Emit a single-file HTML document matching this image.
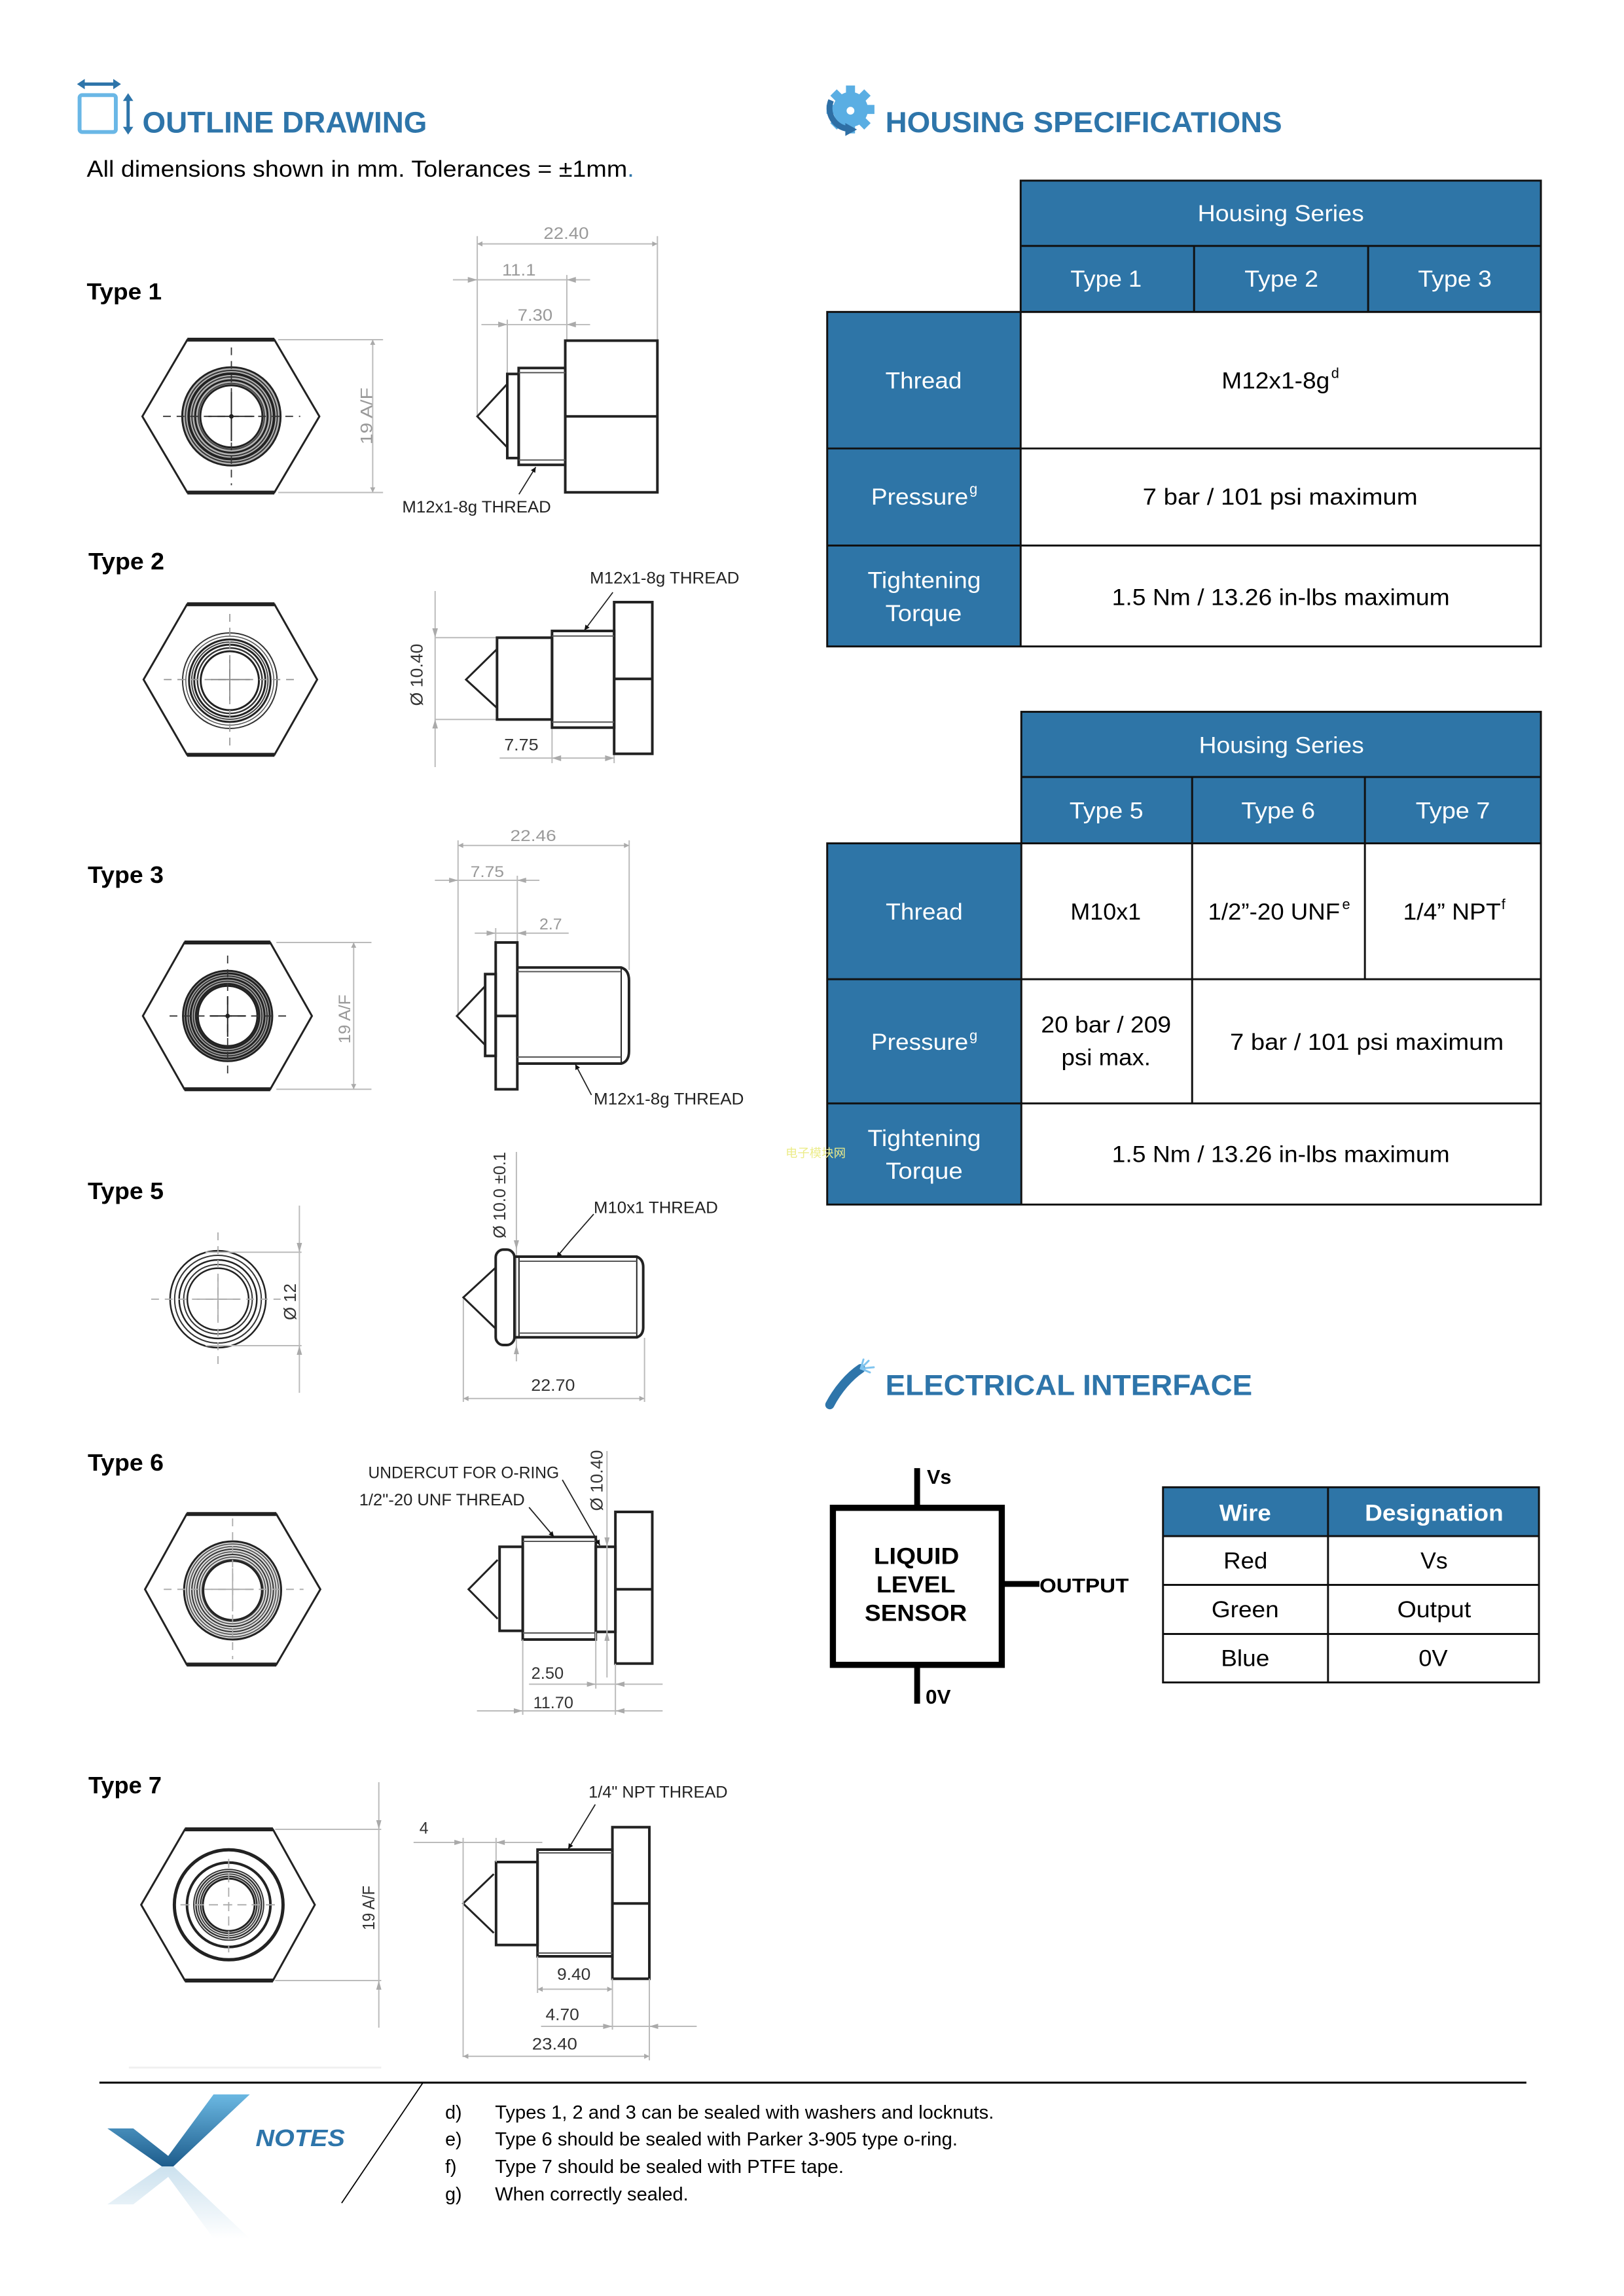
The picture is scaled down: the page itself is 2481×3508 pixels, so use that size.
<!DOCTYPE html>
<html><head><meta charset="utf-8">
<style>
html,body{margin:0;padding:0;background:#fff;}
svg{display:block;}
text{font-family:"Liberation Sans",Arial,sans-serif;}
</style></head><body>
<svg width="2481" height="3508" viewBox="0 0 2481 3508" xmlns="http://www.w3.org/2000/svg">
<defs>
<marker id="ga" viewBox="0 0 10 10" refX="10" refY="5" markerWidth="14" markerHeight="8" markerUnits="userSpaceOnUse" orient="auto-start-reverse"><path d="M0,0 L10,5 L0,10 z" fill="#aaa"/></marker>
<marker id="ba" viewBox="0 0 10 10" refX="10" refY="5" markerWidth="16" markerHeight="8" markerUnits="userSpaceOnUse" orient="auto-start-reverse"><path d="M0,0 L10,5 L0,10 z" fill="#111"/></marker>
<linearGradient id="chk" x1="0" y1="0" x2="0" y2="1"><stop offset="0" stop-color="#6bb8e2"/><stop offset="1" stop-color="#1d5c8c"/></linearGradient>
<linearGradient id="chkr" x1="0" y1="0" x2="0" y2="1"><stop offset="0" stop-color="#a9cde3"/><stop offset="1" stop-color="#ffffff"/></linearGradient>
</defs>

<!-- ===== ZOOM1 region: header + Type 1 ===== -->
<g transform="scale(0.9885)">
<line x1="128" y1="130" x2="178" y2="130" stroke="#2e75aa" stroke-width="5"/>
<polygon points="119,130 131,122 131,138" fill="#2e75aa"/>
<polygon points="187,130 175,122 175,138" fill="#2e75aa"/>
<rect x="123" y="147" width="56" height="57" rx="4" fill="none" stroke="#6ab7e6" stroke-width="6"/>
<line x1="198" y1="154" x2="198" y2="198" stroke="#2e75aa" stroke-width="5"/>
<polygon points="198,144 190,156 206,156" fill="#2e75aa"/>
<polygon points="198,208 190,196 206,196" fill="#2e75aa"/>
<text x="220" y="205" font-size="46" font-weight="bold" fill="#2e75aa" textLength="440" lengthAdjust="spacingAndGlyphs">OUTLINE DRAWING</text>
<text x="134" y="273" font-size="36" fill="#000" textLength="846" lengthAdjust="spacingAndGlyphs">All dimensions shown in mm. Tolerances = ±1mm<tspan fill="#2e75aa">.</tspan></text>

<text x="134" y="463" font-size="36" font-weight="bold" fill="#000" textLength="116" lengthAdjust="spacingAndGlyphs">Type 1</text>

<polygon points="289.6,525 424,525 493.6,643.6 424,761.3 289.6,761.3 220,643.6" fill="none" stroke="#222" stroke-width="3"/>
<line x1="289.6" y1="525" x2="424" y2="525" stroke="#222" stroke-width="6"/>
<line x1="289.6" y1="761.3" x2="424" y2="761.3" stroke="#222" stroke-width="6"/>
<g fill="none">
<circle cx="357.6" cy="643.6" r="62" stroke="#777" stroke-width="28" opacity="0.55"/>
<circle cx="357.6" cy="643.6" r="76" stroke="#222" stroke-width="3"/>
<circle cx="357.6" cy="643.6" r="71" stroke="#333" stroke-width="2"/>
<circle cx="357.6" cy="643.6" r="66" stroke="#222" stroke-width="4"/>
<circle cx="357.6" cy="643.6" r="61" stroke="#333" stroke-width="2"/>
<circle cx="357.6" cy="643.6" r="56" stroke="#222" stroke-width="3"/>
<circle cx="357.6" cy="643.6" r="51" stroke="#444" stroke-width="2"/>
<circle cx="357.6" cy="643.6" r="48" stroke="#222" stroke-width="3"/>
</g>
<g stroke="#333" stroke-width="1.8" stroke-dasharray="12 9">
<line x1="252" y1="643.6" x2="464" y2="643.6"/>
<line x1="357.6" y1="537" x2="357.6" y2="750"/>
</g>
<g stroke="#222" stroke-width="2">
<line x1="322" y1="643.6" x2="393" y2="643.6"/>
<line x1="357.6" y1="606" x2="357.6" y2="682"/>
</g>
<circle cx="357.6" cy="643.6" r="3.5" fill="#222"/>
<g stroke="#bbb" stroke-width="2">
<line x1="430" y1="525" x2="592" y2="525"/>
<line x1="430" y1="761.3" x2="592" y2="761.3"/>
<line x1="576" y1="525" x2="576" y2="761.3" marker-start="url(#ga)" marker-end="url(#ga)"/>
</g>
<text transform="rotate(-90 566 643)" x="566" y="652" font-size="25" fill="#999" text-anchor="middle" textLength="88" lengthAdjust="spacingAndGlyphs">19 A/F</text>

<g stroke="#bbb" stroke-width="2" fill="none">
<line x1="737.6" y1="365" x2="737.6" y2="643"/>
<line x1="1016" y1="365" x2="1016" y2="526"/>
<line x1="876" y1="425" x2="876" y2="526"/>
<line x1="784" y1="494" x2="784" y2="578"/>
<line x1="737.6" y1="377" x2="1016" y2="377" marker-start="url(#ga)" marker-end="url(#ga)"/>
<line x1="700" y1="432.5" x2="912" y2="432.5"/>
<line x1="744" y1="501.7" x2="912" y2="501.7"/>
</g>
<g fill="#aaa">
<polygon points="737.6,432.5 723,428 723,437"/>
<polygon points="876,432.5 890,428 890,437"/>
<polygon points="784,501.7 770,497 770,506"/>
<polygon points="876,501.7 890,497 890,506"/>
</g>
<g font-size="25" fill="#999" text-anchor="middle">
<text x="875" y="369" textLength="70" lengthAdjust="spacingAndGlyphs">22.40</text>
<text x="802" y="426" textLength="52" lengthAdjust="spacingAndGlyphs">11.1</text>
<text x="827" y="495.5" textLength="54" lengthAdjust="spacingAndGlyphs">7.30</text>
</g>
<g stroke="#222" stroke-width="4" fill="none">
<rect x="873.6" y="526.5" width="142.4" height="234.5"/>
<line x1="873.6" y1="643.6" x2="1016" y2="643.6"/>
<rect x="801.6" y="568.8" width="72" height="149.7"/>
<rect x="784" y="578" width="17.6" height="130"/>
<polyline points="784,593.5 737.6,643.6 784,691.6" stroke-width="3"/>
</g>
<line x1="801.6" y1="576" x2="873.6" y2="576" stroke="#555" stroke-width="2"/>
<line x1="801.6" y1="711" x2="873.6" y2="711" stroke="#555" stroke-width="2"/>
<line x1="802" y1="764" x2="828" y2="722" stroke="#222" stroke-width="1.8" marker-end="url(#ba)"/>
<text x="621.6" y="792" font-size="25" fill="#222" textLength="230" lengthAdjust="spacingAndGlyphs">M12x1-8g THREAD</text>
</g>

<!-- ===== ZOOM2 region: housing header + table 1 ===== -->
<g transform="translate(1240,100) scale(0.9885) translate(-1240,-100)">
<g transform="translate(1300,168)">
<g fill="#5aaee3">
<circle r="27"/>
<rect x="-7" y="-37" width="14" height="14"/>
<rect x="-7" y="-37" width="14" height="14" transform="rotate(45)"/>
<rect x="-7" y="-37" width="14" height="14" transform="rotate(90)"/>
<rect x="-7" y="-37" width="14" height="14" transform="rotate(135)"/>
<rect x="-7" y="-37" width="14" height="14" transform="rotate(180)"/>
<rect x="-7" y="-37" width="14" height="14" transform="rotate(225)"/>
<rect x="-7" y="-37" width="14" height="14" transform="rotate(270)"/>
<rect x="-7" y="-37" width="14" height="14" transform="rotate(315)"/>
</g>
<circle cx="0" cy="2" r="6" fill="#fff"/>
<path d="M-30,-14 A32,32 0 0 0 -4,30" stroke="#2e6fa5" stroke-width="9" fill="none"/>
<polygon points="-8,21 10,31 -8,41" fill="#2e6fa5"/>
</g>
<text x="1354" y="203" font-size="45" font-weight="bold" fill="#2e75aa" textLength="613" lengthAdjust="spacingAndGlyphs">HOUSING SPECIFICATIONS</text>

<rect x="1563" y="278" width="804" height="203" fill="#2e75a7"/>
<rect x="1264" y="481" width="299" height="517" fill="#2e75a7"/>
<g stroke="#111" stroke-width="3" fill="none">
<rect x="1563" y="278" width="804" height="203"/>
<line x1="1563" y1="379" x2="2367" y2="379"/>
<line x1="1831" y1="379" x2="1831" y2="481"/>
<line x1="2100" y1="379" x2="2100" y2="481"/>
<rect x="1264" y="481" width="1103" height="517"/>
<line x1="1563" y1="481" x2="1563" y2="998"/>
<line x1="1264" y1="692" x2="2367" y2="692"/>
<line x1="1264" y1="842" x2="2367" y2="842"/>
</g>
<g font-size="36" fill="#fff" text-anchor="middle">
<text x="1965" y="341" textLength="257" lengthAdjust="spacingAndGlyphs">Housing Series</text>
<text x="1695" y="442" textLength="110" lengthAdjust="spacingAndGlyphs">Type 1</text>
<text x="1966" y="442" textLength="114" lengthAdjust="spacingAndGlyphs">Type 2</text>
<text x="2234" y="442" textLength="114" lengthAdjust="spacingAndGlyphs">Type 3</text>
<text x="1413" y="599" textLength="118" lengthAdjust="spacingAndGlyphs">Thread</text>
<text x="1407" y="779" textLength="150" lengthAdjust="spacingAndGlyphs">Pressure</text>
<text x="1414" y="908" textLength="175" lengthAdjust="spacingAndGlyphs">Tightening</text>
<text x="1413" y="959" textLength="118" lengthAdjust="spacingAndGlyphs">Torque</text>
</g>
<text x="1484" y="762" font-size="22" fill="#fff">g</text>
<g font-size="36" fill="#000" text-anchor="middle">
<text x="1957" y="599" textLength="167" lengthAdjust="spacingAndGlyphs">M12x1-8g</text>
<text x="1964" y="779" textLength="425" lengthAdjust="spacingAndGlyphs">7 bar / 101 psi  maximum</text>
<text x="1965" y="934" textLength="522" lengthAdjust="spacingAndGlyphs">1.5 Nm / 13.26 in-lbs maximum</text>
</g>
<text x="2043" y="583" font-size="22" fill="#000">d</text>
</g>

<!-- ===== ZOOM3 region: table 2 ===== -->
<g transform="translate(1240,1050) scale(0.9885) translate(-1240,-1050)">
<rect x="1564" y="1088" width="803" height="203.3" fill="#2e75a7"/>
<rect x="1264" y="1291.3" width="300" height="558.3" fill="#2e75a7"/>
<g stroke="#111" stroke-width="3" fill="none">
<rect x="1564" y="1088" width="803" height="203.3"/>
<line x1="1564" y1="1188.7" x2="2367" y2="1188.7"/>
<line x1="1828" y1="1188.7" x2="1828" y2="1291.3"/>
<line x1="2095" y1="1188.7" x2="2095" y2="1291.3"/>
<rect x="1264" y="1291.3" width="1103" height="558.3"/>
<line x1="1564" y1="1291.3" x2="1564" y2="1849.6"/>
<line x1="1264" y1="1501.3" x2="2367" y2="1501.3"/>
<line x1="1264" y1="1693.3" x2="2367" y2="1693.3"/>
<line x1="1828" y1="1291.3" x2="1828" y2="1693.3"/>
<line x1="2095" y1="1291.3" x2="2095" y2="1501.3"/>
</g>
<g font-size="36" fill="#fff" text-anchor="middle">
<text x="1966" y="1151.5" textLength="255" lengthAdjust="spacingAndGlyphs">Housing Series</text>
<text x="1695.5" y="1253" textLength="114" lengthAdjust="spacingAndGlyphs">Type 5</text>
<text x="1961" y="1253" textLength="114" lengthAdjust="spacingAndGlyphs">Type 6</text>
<text x="2231" y="1253" textLength="115" lengthAdjust="spacingAndGlyphs">Type 7</text>
<text x="1414" y="1409" textLength="119" lengthAdjust="spacingAndGlyphs">Thread</text>
<text x="1407" y="1610.5" textLength="150" lengthAdjust="spacingAndGlyphs">Pressure</text>
<text x="1414" y="1759" textLength="175" lengthAdjust="spacingAndGlyphs">Tightening</text>
<text x="1414" y="1809.5" textLength="119" lengthAdjust="spacingAndGlyphs">Torque</text>
</g>
<text x="1484" y="1596" font-size="22" fill="#fff">g</text>
<g font-size="36" fill="#000" text-anchor="middle">
<text x="1694.5" y="1409" textLength="109" lengthAdjust="spacingAndGlyphs">M10x1</text>
<text x="1954.5" y="1409" textLength="204" lengthAdjust="spacingAndGlyphs">1/2”-20 UNF</text>
<text x="2229.5" y="1409" textLength="151" lengthAdjust="spacingAndGlyphs">1/4” NPT</text>
<text x="1695" y="1583.6" textLength="201" lengthAdjust="spacingAndGlyphs">20 bar / 209</text>
<text x="1695" y="1634" textLength="138" lengthAdjust="spacingAndGlyphs">psi max.</text>
<text x="2098" y="1610.5" textLength="423" lengthAdjust="spacingAndGlyphs">7 bar / 101 psi  maximum</text>
<text x="1965" y="1783.8" textLength="522" lengthAdjust="spacingAndGlyphs">1.5 Nm / 13.26 in-lbs maximum</text>
</g>
<text x="2060" y="1393" font-size="22" fill="#000">e</text>
<text x="2306" y="1393" font-size="22" fill="#000">f</text>
</g>
<text x="1200" y="1768" font-size="18" fill="#ecec8a" textLength="92" lengthAdjust="spacingAndGlyphs">电子模块网</text>

<!-- ===== ZOOM4 region: electrical ===== -->
<g transform="translate(1240,2000) scale(0.9885) translate(-1240,-2000)">
<path d="M1268,2148 C1280,2125 1298,2104 1316,2092" stroke="#2e75aa" stroke-width="14" stroke-linecap="round" fill="none"/>
<g stroke="#7fc4ef" stroke-width="3" stroke-linecap="round">
<line x1="1316" y1="2092" x2="1320" y2="2078"/>
<line x1="1316" y1="2092" x2="1328" y2="2080"/>
<line x1="1316" y1="2092" x2="1336" y2="2090"/>
<line x1="1316" y1="2092" x2="1330" y2="2098"/>
</g>
<text x="1354" y="2133" font-size="45" font-weight="bold" fill="#2e75aa" textLength="567" lengthAdjust="spacingAndGlyphs">ELECTRICAL INTERFACE</text>

<rect x="1272.8" y="2307.3" width="261" height="242.7" fill="none" stroke="#000" stroke-width="9.5"/>
<line x1="1403" y1="2246" x2="1403" y2="2303" stroke="#000" stroke-width="9"/>
<line x1="1403" y1="2554" x2="1403" y2="2610" stroke="#000" stroke-width="9"/>
<line x1="1538" y1="2425" x2="1592" y2="2425" stroke="#000" stroke-width="9"/>
<g font-weight="bold" fill="#000">
<text x="1418" y="2270" font-size="31" textLength="38" lengthAdjust="spacingAndGlyphs">Vs</text>
<text x="1592" y="2438" font-size="31" textLength="138" lengthAdjust="spacingAndGlyphs">OUTPUT</text>
<text x="1416" y="2610" font-size="31" textLength="39" lengthAdjust="spacingAndGlyphs">0V</text>
<text x="1402" y="2394" font-size="36" text-anchor="middle" textLength="132" lengthAdjust="spacingAndGlyphs">LIQUID</text>
<text x="1401" y="2438" font-size="36" text-anchor="middle" textLength="122" lengthAdjust="spacingAndGlyphs">LEVEL</text>
<text x="1401" y="2482" font-size="36" text-anchor="middle" textLength="158" lengthAdjust="spacingAndGlyphs">SENSOR</text>
</g>

<rect x="1783" y="2275.5" width="581" height="75.5" fill="#2e75a7"/>
<g stroke="#111" stroke-width="3" fill="none">
<rect x="1783" y="2275.5" width="581" height="301.7"/>
<line x1="2038" y1="2275.5" x2="2038" y2="2577.2"/>
<line x1="1783" y1="2351" x2="2364" y2="2351"/>
<line x1="1783" y1="2426.4" x2="2364" y2="2426.4"/>
<line x1="1783" y1="2502.3" x2="2364" y2="2502.3"/>
</g>
<g font-size="36" text-anchor="middle">
<text x="1910" y="2327.5" fill="#fff" font-weight="bold" textLength="80" lengthAdjust="spacingAndGlyphs">Wire</text>
<text x="2202" y="2327.5" fill="#fff" font-weight="bold" textLength="214" lengthAdjust="spacingAndGlyphs">Designation</text>
<text x="1910.5" y="2401" textLength="68" lengthAdjust="spacingAndGlyphs">Red</text>
<text x="2202" y="2401" textLength="42" lengthAdjust="spacingAndGlyphs">Vs</text>
<text x="1910" y="2476.5" textLength="104" lengthAdjust="spacingAndGlyphs">Green</text>
<text x="2202" y="2476.5" textLength="114" lengthAdjust="spacingAndGlyphs">Output</text>
<text x="1910" y="2552" textLength="75" lengthAdjust="spacingAndGlyphs">Blue</text>
<text x="2200.5" y="2552" textLength="45" lengthAdjust="spacingAndGlyphs">0V</text>
</g>
</g>

<!-- ===== TYPE LABELS (2-7) ===== -->
<g font-size="36" font-weight="bold" fill="#000">
<text x="135" y="870" textLength="116" lengthAdjust="spacingAndGlyphs">Type 2</text>
<text x="134" y="1349" textLength="116" lengthAdjust="spacingAndGlyphs">Type 3</text>
<text x="134" y="1832" textLength="116" lengthAdjust="spacingAndGlyphs">Type 5</text>
<text x="134" y="2247" textLength="116" lengthAdjust="spacingAndGlyphs">Type 6</text>
<text x="135" y="2740" textLength="112" lengthAdjust="spacingAndGlyphs">Type 7</text>
</g>

<!-- ===== TYPE 2 ===== -->
<g transform="translate(100,0) scale(0.9885,1) translate(-100,0)">
<polygon points="288,923.3 423,923.3 489,1038.3 423,1153.3 288,1153.3 220.7,1038.3" fill="none" stroke="#222" stroke-width="3"/>
<line x1="288" y1="923.3" x2="423" y2="923.3" stroke="#222" stroke-width="6"/>
<line x1="288" y1="1153.3" x2="423" y2="1153.3" stroke="#222" stroke-width="6"/>
<g fill="none">
<circle cx="354" cy="1040" r="73" stroke="#333" stroke-width="2"/>
<circle cx="354" cy="1040" r="68" stroke="#555" stroke-width="1.5"/>
<circle cx="354" cy="1040" r="63" stroke="#222" stroke-width="3"/>
<circle cx="354" cy="1040" r="59" stroke="#444" stroke-width="2"/>
<circle cx="354" cy="1040" r="55" stroke="#222" stroke-width="3"/>
<circle cx="354" cy="1040" r="50" stroke="#333" stroke-width="2.5"/>
<circle cx="354" cy="1040" r="45" stroke="#222" stroke-width="3"/>
</g>
<g stroke="#999" stroke-width="1.8" stroke-dasharray="12 9">
<line x1="252" y1="1038.3" x2="458" y2="1038.3"/>
<line x1="354" y1="938" x2="354" y2="1142"/>
</g>
<g stroke="#888" stroke-width="1.8">
<line x1="325" y1="1038.3" x2="385" y2="1038.3"/>
<line x1="354" y1="1008" x2="354" y2="1070"/>
</g>
<g stroke="#bbb" stroke-width="2">
<line x1="671.3" y1="903" x2="671.3" y2="1172"/>
<line x1="671.3" y1="974.3" x2="767" y2="974.3"/>
<line x1="671.3" y1="1099.3" x2="767" y2="1099.3"/>
<line x1="852" y1="1111.7" x2="852" y2="1166"/>
<line x1="948" y1="1151.7" x2="948" y2="1166"/>
<line x1="771" y1="1158.3" x2="948" y2="1158.3"/>
</g>
<g fill="#aaa">
<polygon points="671.3,974.3 667,960 675.6,960"/>
<polygon points="671.3,1099.3 667,1113 675.6,1113"/>
<polygon points="852,1158.3 866,1154 866,1163"/>
<polygon points="948,1158.3 934,1154 934,1163"/>
</g>
<text transform="rotate(-90 643 1031)" x="643" y="1040" font-size="26" fill="#333" text-anchor="middle" textLength="95" lengthAdjust="spacingAndGlyphs">Ø 10.40</text>
<g stroke="#222" stroke-width="4" fill="none">
<polyline points="767,991.7 719,1038.3 767,1081.7" stroke-width="3"/>
<rect x="767" y="974.3" width="85" height="125"/>
<rect x="852" y="964" width="96" height="147.7"/>
<rect x="948" y="920" width="59" height="231.7"/>
<line x1="948" y1="1037.3" x2="1007" y2="1037.3"/>
</g>
<line x1="852" y1="971.7" x2="948" y2="971.7" stroke="#555" stroke-width="2"/>
<line x1="852" y1="1103.3" x2="948" y2="1103.3" stroke="#555" stroke-width="2"/>
<line x1="946" y1="905" x2="902" y2="963" stroke="#222" stroke-width="1.8" marker-end="url(#ba)"/>
<text x="910.5" y="891.7" font-size="25" fill="#222" textLength="231" lengthAdjust="spacingAndGlyphs">M12x1-8g THREAD</text>
<text x="804.5" y="1146.7" font-size="25" fill="#333" text-anchor="middle" textLength="53" lengthAdjust="spacingAndGlyphs">7.75</text>
</g>

<!-- ===== TYPE 3 ===== -->
<g transform="translate(180,0) scale(0.9885,1) translate(-180,0)">
<polygon points="283,1440 415.5,1440 480,1552.3 415.5,1664.3 283,1664.3 218.7,1552.3" fill="none" stroke="#222" stroke-width="3"/>
<line x1="283" y1="1440" x2="415.5" y2="1440" stroke="#222" stroke-width="6"/>
<line x1="283" y1="1664.3" x2="415.5" y2="1664.3" stroke="#222" stroke-width="6"/>
<g fill="none">
<circle cx="349.7" cy="1552.3" r="58" stroke="#777" stroke-width="22" opacity="0.6"/>
<circle cx="349.7" cy="1552.3" r="69" stroke="#222" stroke-width="3"/>
<circle cx="349.7" cy="1552.3" r="65" stroke="#222" stroke-width="3"/>
<circle cx="349.7" cy="1552.3" r="61" stroke="#333" stroke-width="2"/>
<circle cx="349.7" cy="1552.3" r="57" stroke="#222" stroke-width="3"/>
<circle cx="349.7" cy="1552.3" r="53" stroke="#333" stroke-width="2"/>
<circle cx="349.7" cy="1552.3" r="49" stroke="#222" stroke-width="3"/>
<circle cx="349.7" cy="1552.3" r="46" stroke="#222" stroke-width="3"/>
</g>
<g stroke="#333" stroke-width="1.8" stroke-dasharray="12 9">
<line x1="260" y1="1552.3" x2="441" y2="1552.3"/>
<line x1="349.7" y1="1460" x2="349.7" y2="1643"/>
</g>
<g stroke="#222" stroke-width="2">
<line x1="322" y1="1552.3" x2="378" y2="1552.3"/>
<line x1="349.7" y1="1522" x2="349.7" y2="1584"/>
</g>
<circle cx="349.7" cy="1552.3" r="3.5" fill="#222"/>
<g stroke="#bbb" stroke-width="2">
<line x1="425" y1="1440" x2="572" y2="1440"/>
<line x1="425" y1="1664.3" x2="572" y2="1664.3"/>
<line x1="544.5" y1="1440" x2="544.5" y2="1664.3" marker-start="url(#ga)" marker-end="url(#ga)"/>
</g>
<text transform="rotate(-90 530 1557)" x="530" y="1566" font-size="25" fill="#999" text-anchor="middle" textLength="75" lengthAdjust="spacingAndGlyphs">19 A/F</text>
<g stroke="#bbb" stroke-width="2" fill="none">
<line x1="705.8" y1="1284" x2="705.8" y2="1552"/>
<line x1="970.3" y1="1284" x2="970.3" y2="1482"/>
<line x1="797.4" y1="1338" x2="797.4" y2="1440"/>
<line x1="764" y1="1418" x2="764" y2="1440"/>
<line x1="705.8" y1="1291.7" x2="970.3" y2="1291.7" marker-start="url(#ga)" marker-end="url(#ga)"/>
<line x1="670" y1="1345" x2="831.6" y2="1345"/>
<line x1="731.6" y1="1425.7" x2="876.8" y2="1425.7"/>
</g>
<g fill="#aaa">
<polygon points="705.8,1345 692,1341 692,1349"/>
<polygon points="797.4,1345 811,1341 811,1349"/>
<polygon points="764,1425.7 750,1421.7 750,1429.7"/>
<polygon points="797.4,1425.7 811,1421.7 811,1429.7"/>
</g>
<g font-size="24" fill="#999" text-anchor="middle">
<text x="822" y="1285" textLength="71" lengthAdjust="spacingAndGlyphs">22.46</text>
<text x="751" y="1340" textLength="52" lengthAdjust="spacingAndGlyphs">7.75</text>
<text x="849" y="1420" textLength="35" lengthAdjust="spacingAndGlyphs">2.7</text>
</g>
<g stroke="#222" stroke-width="4" fill="none">
<polyline points="747.7,1506.7 703.9,1552.3 747.7,1596.7" stroke-width="3"/>
<rect x="747.7" y="1488.3" width="16.3" height="125"/>
<rect x="764" y="1440" width="33.4" height="224.3"/>
<line x1="764" y1="1552.3" x2="797.4" y2="1552.3"/>
<path d="M797.4,1478.3 H958 Q970,1482 970,1498 V1606 Q970,1622 958,1625 H797.4"/>
<line x1="958" y1="1478.3" x2="958" y2="1625" stroke-width="2"/>
</g>
<line x1="797.4" y1="1484.5" x2="958" y2="1484.5" stroke="#555" stroke-width="2"/>
<line x1="797.4" y1="1615" x2="958" y2="1615" stroke="#555" stroke-width="2"/>
<line x1="912" y1="1673" x2="887" y2="1626" stroke="#222" stroke-width="1.8" marker-end="url(#ba)"/>
<text x="915.5" y="1687.7" font-size="25" fill="#222" textLength="232" lengthAdjust="spacingAndGlyphs">M12x1-8g THREAD</text>
</g>

<!-- ===== TYPE 5 ===== -->
<g transform="translate(180,0) scale(0.9885,1) translate(-180,0)">
<g fill="none">
<circle cx="334.8" cy="1985" r="74" stroke="#222" stroke-width="2.5"/>
<circle cx="334.8" cy="1985" r="67" stroke="#333" stroke-width="2"/>
<circle cx="334.8" cy="1985" r="60" stroke="#222" stroke-width="2.5"/>
<circle cx="334.8" cy="1985" r="53" stroke="#333" stroke-width="2"/>
<circle cx="334.8" cy="1985" r="47.4" stroke="#222" stroke-width="2.5"/>
</g>
<g stroke="#aaa" stroke-width="1.8" stroke-dasharray="12 9">
<line x1="231.6" y1="1985" x2="431.6" y2="1985"/>
<line x1="334.8" y1="1883" x2="334.8" y2="2088"/>
</g>
<g stroke="#aaa" stroke-width="1.8">
<line x1="302" y1="1985" x2="368" y2="1985"/>
<line x1="334.8" y1="1952" x2="334.8" y2="2018"/>
</g>
<g stroke="#bbb" stroke-width="2">
<line x1="315.5" y1="1913.3" x2="464" y2="1913.3"/>
<line x1="315.5" y1="2056" x2="464" y2="2056"/>
<line x1="460.6" y1="1842" x2="460.6" y2="2128"/>
</g>
<g fill="#aaa">
<polygon points="460.6,1913.3 456.5,1899 464.7,1899"/>
<polygon points="460.6,2056 456.5,2070 464.7,2070"/>
</g>
<text transform="rotate(-90 446 1989)" x="446" y="1998" font-size="26" fill="#333" text-anchor="middle" textLength="56" lengthAdjust="spacingAndGlyphs">Ø 12</text>
<g stroke="#bbb" stroke-width="2">
<line x1="796" y1="1760" x2="796" y2="2080"/>
<line x1="714" y1="1984" x2="714" y2="2142"/>
<line x1="994" y1="2044" x2="994" y2="2142"/>
<line x1="714" y1="2136.7" x2="994" y2="2136.7" marker-start="url(#ga)" marker-end="url(#ga)"/>
</g>
<g fill="#aaa">
<polygon points="796,1909 792,1895 800,1895"/>
<polygon points="796,2055 792,2069 800,2069"/>
</g>
<text transform="rotate(-90 770 1826)" x="770" y="1835" font-size="26" fill="#333" text-anchor="middle" textLength="132" lengthAdjust="spacingAndGlyphs">Ø 10.0 ±0.1</text>
<g stroke="#222" stroke-width="4" fill="none">
<polyline points="764,1936.7 714,1982.3 764,2030" stroke-width="3"/>
<rect x="764" y="1909.3" width="29" height="145.7" rx="12"/>
<path d="M793,1920 H982 Q992,1924 992,1936 V2028 Q992,2040 982,2043.3 H793"/>
<line x1="800" y1="1920" x2="800" y2="2043.3" stroke-width="2"/>
<line x1="982" y1="1920" x2="982" y2="2043.3" stroke-width="2"/>
</g>
<line x1="800" y1="1927" x2="982" y2="1927" stroke="#555" stroke-width="2"/>
<line x1="800" y1="2036.7" x2="982" y2="2036.7" stroke="#555" stroke-width="2"/>
<path d="M915.5,1855 L880,1895 L858,1921" stroke="#222" stroke-width="1.8" fill="none" marker-end="url(#ba)"/>
<text x="915.5" y="1853.3" font-size="25" fill="#222" textLength="192" lengthAdjust="spacingAndGlyphs">M10x1 THREAD</text>
<text x="852.6" y="2125" font-size="25" fill="#333" text-anchor="middle" textLength="68" lengthAdjust="spacingAndGlyphs">22.70</text>
</g>

<!-- ===== TYPE 6 ===== -->
<g transform="translate(180,0) scale(0.9885,1) translate(-180,0)">
<polygon points="286.5,2313.3 425,2313.3 493,2428.3 425,2543.3 286.5,2543.3 222,2428.3" fill="none" stroke="#222" stroke-width="3"/>
<line x1="286.5" y1="2313.3" x2="425" y2="2313.3" stroke="#222" stroke-width="6"/>
<line x1="286.5" y1="2543.3" x2="425" y2="2543.3" stroke="#222" stroke-width="6"/>
<g fill="none">
<circle cx="357.4" cy="2430" r="60" stroke="#999" stroke-width="28" opacity="0.35"/>
<circle cx="357.4" cy="2430" r="75" stroke="#222" stroke-width="3"/>
<circle cx="357.4" cy="2430" r="71" stroke="#444" stroke-width="1.5"/>
<circle cx="357.4" cy="2430" r="67" stroke="#444" stroke-width="1.5"/>
<circle cx="357.4" cy="2430" r="63" stroke="#333" stroke-width="2"/>
<circle cx="357.4" cy="2430" r="59" stroke="#444" stroke-width="1.5"/>
<circle cx="357.4" cy="2430" r="55" stroke="#333" stroke-width="2"/>
<circle cx="357.4" cy="2430" r="51" stroke="#444" stroke-width="1.5"/>
<circle cx="357.4" cy="2430" r="47" stroke="#333" stroke-width="2"/>
<circle cx="357.4" cy="2430" r="45" stroke="#222" stroke-width="2.5"/>
</g>
<g stroke="#aaa" stroke-width="1.8" stroke-dasharray="12 9">
<line x1="251" y1="2428.3" x2="467" y2="2428.3"/>
<line x1="357.4" y1="2320" x2="357.4" y2="2535"/>
</g>
<g stroke="#aaa" stroke-width="1.8">
<line x1="325" y1="2428.3" x2="390" y2="2428.3"/>
<line x1="357.4" y1="2396" x2="357.4" y2="2462"/>
</g>
<g stroke="#222" stroke-width="4" fill="none">
<polyline points="767,2383.3 722,2428.3 767,2473.3" stroke-width="3"/>
<rect x="770" y="2363.3" width="35.8" height="128.4"/>
<rect x="805.8" y="2348.3" width="112.9" height="156.7"/>
<rect x="918.7" y="2363.3" width="30.3" height="130"/>
<rect x="949" y="2310" width="57" height="231.7"/>
<line x1="949" y1="2428.3" x2="1006" y2="2428.3"/>
</g>
<line x1="805.8" y1="2355" x2="918.7" y2="2355" stroke="#555" stroke-width="2"/>
<line x1="805.8" y1="2495" x2="918.7" y2="2495" stroke="#555" stroke-width="2"/>
<g stroke="#bbb" stroke-width="2">
<line x1="936" y1="2217" x2="936" y2="2563"/>
<line x1="805.8" y1="2505" x2="805.8" y2="2620"/>
<line x1="918.7" y1="2493" x2="918.7" y2="2580"/>
<line x1="949" y1="2542" x2="949" y2="2620"/>
<line x1="815.5" y1="2573.3" x2="1022" y2="2573.3"/>
<line x1="735" y1="2614" x2="1022" y2="2614"/>
</g>
<g fill="#aaa">
<polygon points="936,2363 932,2349 940,2349"/>
<polygon points="936,2493 932,2507 940,2507"/>
<polygon points="918.7,2573.3 905,2569.3 905,2577.3"/>
<polygon points="949,2573.3 963,2569.3 963,2577.3"/>
<polygon points="805.8,2614 792,2610 792,2618"/>
<polygon points="949,2614 963,2610 963,2618"/>
</g>
<text transform="rotate(-90 920 2262)" x="920" y="2271" font-size="26" fill="#333" text-anchor="middle" textLength="93" lengthAdjust="spacingAndGlyphs">Ø 10.40</text>
<line x1="815.5" y1="2303" x2="854" y2="2348" stroke="#222" stroke-width="1.8" marker-end="url(#ba)"/>
<line x1="867" y1="2261" x2="925" y2="2361" stroke="#222" stroke-width="1.8" marker-end="url(#ba)"/>
<text x="567" y="2258.3" font-size="25" fill="#222" textLength="295" lengthAdjust="spacingAndGlyphs">UNDERCUT FOR O-RING</text>
<text x="553" y="2300" font-size="25" fill="#222" textLength="256" lengthAdjust="spacingAndGlyphs">1/2"-20 UNF THREAD</text>
<text x="844" y="2565" font-size="25" fill="#333" text-anchor="middle" textLength="50" lengthAdjust="spacingAndGlyphs">2.50</text>
<text x="853" y="2610" font-size="25" fill="#333" text-anchor="middle" textLength="62" lengthAdjust="spacingAndGlyphs">11.70</text>
</g>

<!-- ===== TYPE 7 ===== -->
<g transform="translate(100,0) scale(0.9885,1) translate(-100,0)">
<polygon points="284.7,2795 420.6,2795 485.4,2910.3 420.6,3026 284.7,3026 217,2910.3" fill="none" stroke="#222" stroke-width="3"/>
<line x1="284.7" y1="2795" x2="420.6" y2="2795" stroke="#222" stroke-width="6"/>
<line x1="284.7" y1="3026" x2="420.6" y2="3026" stroke="#222" stroke-width="6"/>
<g fill="none">
<circle cx="352.3" cy="2910.3" r="84" stroke="#222" stroke-width="5"/>
<circle cx="352.3" cy="2910.3" r="64.5" stroke="#222" stroke-width="4"/>
<circle cx="352.3" cy="2910.3" r="54" stroke="#333" stroke-width="2"/>
<circle cx="352.3" cy="2910.3" r="50.5" stroke="#333" stroke-width="2.5"/>
<circle cx="352.3" cy="2910.3" r="47" stroke="#444" stroke-width="2"/>
<circle cx="352.3" cy="2910.3" r="43.5" stroke="#333" stroke-width="2.5"/>
<circle cx="352.3" cy="2910.3" r="40" stroke="#222" stroke-width="3"/>
</g>
<g stroke="#aaa" stroke-width="1.8">
<line x1="277.7" y1="2910.3" x2="427.5" y2="2910.3" stroke-dasharray="14 8"/>
<line x1="352.3" y1="2840" x2="352.3" y2="2983" stroke-dasharray="14 8"/>
</g>
<g stroke="#bbb" stroke-width="2">
<line x1="424" y1="2795" x2="588" y2="2795"/>
<line x1="424" y1="3026" x2="588" y2="3026"/>
<line x1="584.3" y1="2723" x2="584.3" y2="3098"/>
</g>
<g fill="#aaa">
<polygon points="584.3,2795 580.3,2781 588.3,2781"/>
<polygon points="584.3,3026 580.3,3040 588.3,3040"/>
</g>
<text transform="rotate(-90 568.6 2915)" x="568.6" y="2924" font-size="26" fill="#333" text-anchor="middle" textLength="68" lengthAdjust="spacingAndGlyphs">19 A/F</text>
<g stroke="#222" stroke-width="4" fill="none">
<polyline points="762,2863.3 714.6,2908.3 762,2953.3" stroke-width="3"/>
<rect x="765.5" y="2845" width="64.1" height="126.7"/>
<rect x="829.6" y="2826" width="115.7" height="163"/>
<rect x="945.3" y="2791.7" width="57.1" height="231.6"/>
<line x1="945.3" y1="2908.3" x2="1002.4" y2="2908.3"/>
</g>
<line x1="829.6" y1="2831" x2="945.3" y2="2831" stroke="#555" stroke-width="2"/>
<line x1="829.6" y1="2984" x2="945.3" y2="2984" stroke="#555" stroke-width="2"/>
<g stroke="#bbb" stroke-width="2">
<line x1="714.6" y1="2808" x2="714.6" y2="3143"/>
<line x1="765.5" y1="2808" x2="765.5" y2="2845"/>
<line x1="638" y1="2815" x2="837" y2="2815"/>
<line x1="829.6" y1="2989" x2="829.6" y2="3045"/>
<line x1="829.6" y1="3039.3" x2="945.3" y2="3039.3" marker-start="url(#ga)" marker-end="url(#ga)"/>
<line x1="945.3" y1="3023" x2="945.3" y2="3101"/>
<line x1="1002.4" y1="3023" x2="1002.4" y2="3148"/>
<line x1="835" y1="3096" x2="1075.6" y2="3096"/>
<line x1="714.6" y1="3141.7" x2="1002.4" y2="3141.7" marker-start="url(#ga)" marker-end="url(#ga)"/>
</g>
<g fill="#aaa">
<polygon points="714.6,2815 701,2811 701,2819"/>
<polygon points="765.5,2815 779,2811 779,2819"/>
<polygon points="945.3,3096 931,3092 931,3100"/>
<polygon points="1002.4,3096 1016,3092 1016,3100"/>
</g>
<line x1="918.8" y1="2757" x2="877" y2="2825" stroke="#222" stroke-width="1.8" marker-end="url(#ba)"/>
<text x="908.4" y="2746.7" font-size="25" fill="#222" textLength="215" lengthAdjust="spacingAndGlyphs">1/4" NPT THREAD</text>
<g font-size="25" fill="#333" text-anchor="middle">
<text x="654" y="2801.7">4</text>
<text x="885.7" y="3025" textLength="52" lengthAdjust="spacingAndGlyphs">9.40</text>
<text x="868" y="3086.7" textLength="52" lengthAdjust="spacingAndGlyphs">4.70</text>
<text x="856" y="3131.7" textLength="70" lengthAdjust="spacingAndGlyphs">23.40</text>
</g>
<line x1="198" y1="3159" x2="588" y2="3159" stroke="#f0f0f0" stroke-width="3"/>
</g>

<!-- ===== NOTES ===== -->
<g transform="scale(0.9885,1)">
<line x1="153.6" y1="3182" x2="2359" y2="3182" stroke="#000" stroke-width="3"/>
<line x1="653" y1="3183" x2="528" y2="3366" stroke="#000" stroke-width="1.8"/>
<polygon points="166,3252 206,3252 260,3294 330,3200 386,3200 268,3310 250,3310" fill="url(#chk)"/>
<polygon points="166,3368 206,3368 260,3326 330,3420 386,3420 268,3310 250,3310" fill="url(#chkr)" opacity="0.6"/>
<text x="395" y="3279" font-size="36" font-weight="bold" font-style="italic" fill="#2e75aa" textLength="138" lengthAdjust="spacingAndGlyphs">NOTES</text>
<g font-size="29" fill="#000">
<text x="688" y="3237">d)</text>
<text x="765" y="3237" textLength="771" lengthAdjust="spacingAndGlyphs">Types 1, 2 and 3 can be sealed with washers and locknuts.</text>
<text x="688" y="3278">e)</text>
<text x="765" y="3278" textLength="715" lengthAdjust="spacingAndGlyphs">Type 6 should be sealed with Parker 3-905 type o-ring.</text>
<text x="688" y="3320">f)</text>
<text x="765" y="3320" textLength="539" lengthAdjust="spacingAndGlyphs">Type 7 should be sealed with PTFE tape.</text>
<text x="688" y="3362">g)</text>
<text x="765" y="3362" textLength="299" lengthAdjust="spacingAndGlyphs">When correctly sealed.</text>
</g>
</g>
</svg>
</body></html>
